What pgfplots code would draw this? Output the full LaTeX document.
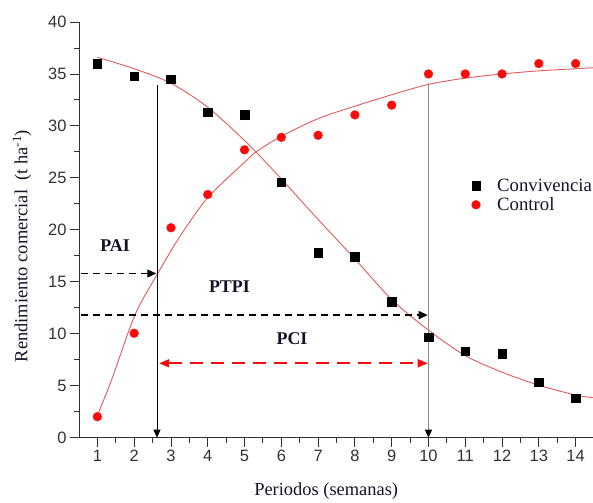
\documentclass[border=0pt]{standalone}
\usepackage{fontspec}
\setmainfont{Liberation Serif}
\newfontfamily\sansf{Liberation Sans}
\usepackage{pgfplots}
\pgfplotsset{compat=1.18}
\usetikzlibrary{arrows.meta}
\definecolor{fitred}{RGB}{225,90,90}
\definecolor{axgray}{RGB}{50,50,50}
\definecolor{vgray}{RGB}{140,140,140}
\definecolor{ptred}{RGB}{250,10,10}
\definecolor{txt}{RGB}{20,20,40}
\begin{document}
\begin{tikzpicture}[x=1bp,y=1bp]
\path[use as bounding box] (0,0) rectangle (593,503);
\begin{axis}[
  at={(79bp,65.3bp)}, anchor=south west,
  scale only axis, width=515bp, height=415.7bp,
  xmin=0.5, xmax=14.5, ymin=0, ymax=40,
  axis x line=bottom, axis y line=left,
  axis line style={-, axgray, line width=0.9pt},
  xtick={1,...,14}, ytick={0,5,...,40},
  minor x tick num=1, minor y tick num=1,
  tick align=outside,
  major tick length=9bp, minor tick length=5bp,
  every tick/.style={axgray, line width=0.9pt},
  ticklabel style={font=\sansf\fontsize{16.5}{19}\selectfont, text=axgray},
  /pgf/number format/assume math mode=true,
  xlabel={Periodos (semanas)},
  ylabel={Rendimiento comercial\ \ (t ha\textsuperscript{-1})},
  label style={font=\fontsize{18.5}{22}\selectfont, text=txt},
  xlabel style={at={(axis description cs:0.48,-0.128)}, anchor=center},
  ylabel style={at={(axis description cs:-0.111,0.461)}, anchor=center},
  legend style={at={(axis description cs:0.762,0.583)}, anchor=west, draw=none, fill=none,
    font=\fontsize{18.8}{22}\selectfont, text=txt, row sep=1pt, inner sep=0pt,
    nodes={inner sep=2bp}},
  legend image code/.code={\path (0bp,0bp) (23bp,0bp); \draw[#1] plot coordinates {(4bp,0bp)};},
  legend cell align=left,
  clip=false,
]
\addplot[only marks, mark=square*, mark size=4.3pt, black] coordinates {
(1,36.0) (2,34.8) (3,34.5) (4,31.3) (5,31.1) (6,24.6) (7,17.8)
(8,17.4) (9,13.1) (10,9.66) (11,8.34) (12,8.09) (13,5.33) (14,3.79)};
\addlegendentry{Convivencia}
\addplot[only marks, mark=*, mark size=4.4pt, ptred, mark options={draw=ptred, fill=ptred}] coordinates {
(1,2.02) (2,10.05) (3,20.2) (4,23.4) (5,27.7) (6,28.9) (7,29.1)
(8,31.06) (9,32.0) (10,35.0) (11,35.0) (12,35.0) (13,36.0) (14,36.0)};
\addlegendentry{Control}
\addplot[fitred, line width=0.9pt, smooth, forget plot] coordinates {
(1,36.6) (2,35.5) (3,34.1) (4,31.8) (5,28.6) (5.31,27.5) (6,24.9) (7,21.0)
(8,17.2) (9,13.3) (10,10.35) (11,7.9) (12,6.3) (13,5.05) (14,4.1) (14.5,3.85)};
\addplot[fitred, line width=0.9pt, smooth, forget plot] coordinates {
(1.03,2.4) (1.39,5.6) (2.02,11.8) (2.64,15.8) (3.25,19.4) (4,23.1) (5,26.5)
(5.31,27.5) (6,29.0) (7,30.7) (8,31.9) (9,33.0) (10,34.0) (11,34.6) (12,35.0)
(13,35.3) (14,35.5) (14.5,35.6)};
% vertical lines
\draw[black, line width=0.8pt, -{Triangle[length=8bp,width=7bp]}] (axis cs:2.62,33.9) -- (axis cs:2.62,0);
\draw[vgray, line width=1.2pt, -{Triangle[length=8bp,width=7bp,black]}] (axis cs:10,34.1) -- (axis cs:10,0);
% dashed arrows
\draw[black, line width=1.2pt, dash pattern=on 7bp off 5bp, -{Triangle[length=9bp,width=8bp]}] (axis cs:0.55,15.8) -- (axis cs:2.6,15.8);
\draw[black, line width=1.2pt, dash pattern=on 7bp off 5bp, -{Triangle[length=9bp,width=8bp]}] (axis cs:0.55,11.8) -- (axis cs:9.98,11.8);
\draw[ptred, line width=1.8pt, dash pattern=on 13bp off 8bp, {Triangle[length=10bp,width=8bp]}-{Triangle[length=10bp,width=8bp]}] (axis cs:2.68,7.16) -- (axis cs:9.98,7.16);
% labels
\node[font=\bfseries\fontsize{18}{22}\selectfont, text=txt] at (axis cs:1.48,18.5) {PAI};
\node[font=\bfseries\fontsize{18}{22}\selectfont, text=txt] at (axis cs:4.59,14.5) {PTPI};
\node[font=\bfseries\fontsize{18}{22}\selectfont, text=txt] at (axis cs:6.29,9.57) {PCI};
\end{axis}
\end{tikzpicture}
\end{document}
